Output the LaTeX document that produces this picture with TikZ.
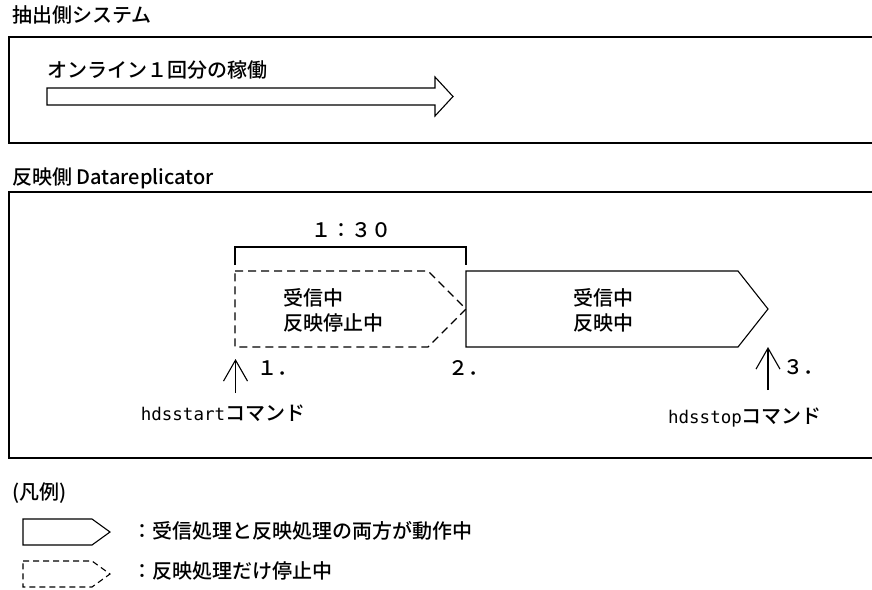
\documentclass[tikz,border=0pt]{standalone}
\usepackage{fontspec}
\setmainfont{Noto Sans CJK JP}[UprightFont=* Medium]
\newfontfamily\cmdfont{DejaVu Sans Mono}
\usetikzlibrary{arrows.meta,positioning}

\begin{document}
\begin{tikzpicture}[
    x=1pt, y=-1pt,
    txt/.style={inner sep=0pt, align=left, font=\fontsize{20}{25}\selectfont},
    frame/.style={draw, line width=1.4pt},
    run/.style={draw, line width=1.1pt, line join=miter},
    halt/.style={run, dash pattern=on 8pt off 5pt},
    arr/.style={-{Straight Barb[length=21pt, width=24pt]}, line width=1.1pt}
]
\useasboundingbox (0,0) rectangle (872,589);

% extraction side
\node[txt, anchor=west] (srcttl) at (12,15) {抽出側システム};
\draw[frame] (9,37) rectangle (880,143);
\node[txt, anchor=west] (online) at (47,70) {オンライン１回分の稼働};
\draw[run] (47,88) -- (435,88) -- (435,77) -- (453,96.5) -- (435,116)
    -- (435,105) -- (47,105) -- cycle;

% reflection side
\node[txt, anchor=west] (dstttl) at (12,178) {反映側 Datareplicator};
\draw[frame] (9,192) rectangle (880,458);

\draw[run] (235,265) -- (235,247) -- (466,247) -- (466,265);
\node[txt] (span) at (351,230) {１：３０};

\draw[halt] (235,271) -- (428,271) -- (466,309) -- (428,347) -- (235,347) -- cycle;
\draw[run] (466,271) -- (738,271) -- (768,309) -- (738,347) -- (466,347) -- cycle;
\node[txt, anchor=west] (recv) at (283,310) {受信中\\反映停止中};
\node[txt, anchor=west] (refl) at (573,310) {受信中\\反映中};

\node[txt, anchor=west] (n1) at (257,368) {１．};
\node[txt, anchor=west] (n2) at (448,368) {２．};
\node[txt, anchor=west] (n3) at (783,367) {３．};

\node[txt] (start) at (223,413) {{\cmdfont\fontsize{17.5}{20}\selectfont hdsstart}コマンド};
\node[txt] (stop) at (745,417) {{\cmdfont\fontsize{17.5}{20}\selectfont hdsstop}コマンド};
\coordinate (s1) at (235.5,393);
\coordinate (p1) at (235.5,359);
\coordinate (s3) at (768,390);
\coordinate (p3) at (768,347);
\draw[arr] (s1) -- (p1);
\draw[arr] (s3) -- (p3);

% legend
\node[txt, anchor=west] (key) at (12,493) {(凡例)};
\draw[run] (23,519) -- (92,519) -- (110,532) -- (92,545) -- (23,545) -- cycle;
\node[txt, anchor=west] (keyrun) at (132,531) {：受信処理と反映処理の両方が動作中};
\draw[halt, dash pattern=on 6pt off 4pt] (23,561) -- (92,561) -- (110,574)
    -- (92,587) -- (23,587) -- cycle;
\node[txt, anchor=west] (keyhalt) at (132,571) {：反映処理だけ停止中};
\end{tikzpicture}
\end{document}
